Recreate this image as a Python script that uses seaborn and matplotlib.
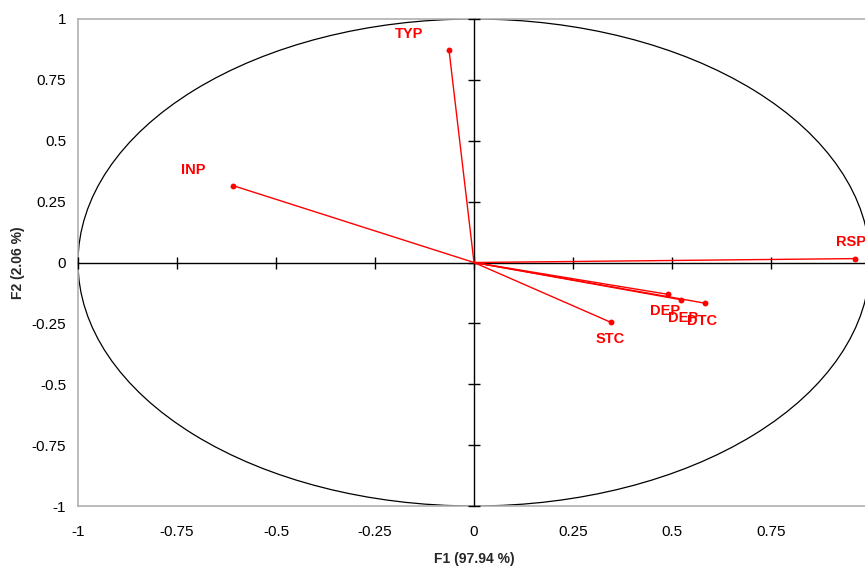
import numpy as np
import pandas as pd
import matplotlib
matplotlib.use("Agg")
import matplotlib.pyplot as plt
import seaborn as sns
from matplotlib.patches import Ellipse

variables = ["TYP", "INP", "RSP", "DEP", "DEP", "DTC", "STC"]
f1 = [-0.063, -0.609, 0.962, 0.491, 0.523, 0.583, 0.346]
f2 = [0.871, 0.316, 0.016, -0.131, -0.153, -0.167, -0.246]
label_dx = [-40, -40, -4, -3, 2, -3, -1]
label_dy = [16, 16, 17, -17, -18, -18, -17]

ticks = [-1, -0.75, -0.5, -0.25, 0, 0.25, 0.5, 0.75, 1]
x_tick_labels = ["-1", "-0.75", "-0.5", "-0.25", "0", "0.25", "0.5", "0.75", ""]
y_tick_labels = ["-1", "-0.75", "-0.5", "-0.25", "0", "0.25", "0.5", "0.75", "1"]

sns.set_style("white")
plt.rcParams["font.family"] = ["Liberation Sans", "DejaVu Sans"]

fig = plt.figure(figsize=(8.65, 5.68), dpi=100)
rect = [78/865, 1-506/568, (870-78)/865, (506-19)/568]
ax = fig.add_axes(rect)
df = pd.DataFrame({"F1": f1, "F2": f2, "var": variables})

ax.set_xlim(-1, 1)
ax.set_ylim(-1, 1)
ax.set_xticks(ticks)
ax.set_xticklabels(x_tick_labels)
ax.set_yticks(ticks)
ax.set_yticklabels(y_tick_labels)
ax.tick_params(length=0, labelsize=11, colors="black")
ax.tick_params(axis="x", pad=14)
ax.tick_params(axis="y", pad=8.5)
for s in ax.spines.values():
    s.set_color("#b0b0b0")
    s.set_linewidth(1.2)
ax.set_xlabel("F1 (97.94 %)", fontsize=10, fontweight="bold", labelpad=9)
ax.set_ylabel("F2 (2.06 %)", fontsize=10, fontweight="bold", labelpad=5)

# unit circle
ax.add_patch(Ellipse((0, 0), 2, 2, fill=False, edgecolor="black", linewidth=0.9))

# center axes with ticks
ax2 = fig.add_axes(rect, sharex=ax, sharey=ax)
ax2.patch.set_alpha(0)
for k in ["top", "right"]:
    ax2.spines[k].set_visible(False)
ax2.spines["left"].set_position(("data", 0))
ax2.spines["bottom"].set_position(("data", 0))
for k in ["left", "bottom"]:
    ax2.spines[k].set_color("black")
    ax2.spines[k].set_linewidth(1.0)
ax2.tick_params(direction="inout", length=9, width=1, colors="black",
                labelleft=False, labelbottom=False, left=True, bottom=True)

for x, y in zip(f1, f2):
    ax2.plot([0, x], [0, y], color="red", linewidth=1.0, zorder=3)
sns.scatterplot(data=df, x="F1", y="F2", ax=ax2, color="red", s=18,
                edgecolor="red", linewidth=0, zorder=4, legend=False)
ax2.set_xlabel("")
ax2.set_ylabel("")
ax2.set_xlim(-1, 1)
ax2.set_ylim(-1, 1)

for v, x, y, dx, dy in zip(variables, f1, f2, label_dx, label_dy):
    ax2.annotate(v, (x, y), xytext=(dx, dy), textcoords="offset pixels",
                 ha="center", va="center", color="red", fontsize=10.5,
                 fontweight="bold", zorder=5, annotation_clip=False)

fig.savefig("out.png", dpi=100)
